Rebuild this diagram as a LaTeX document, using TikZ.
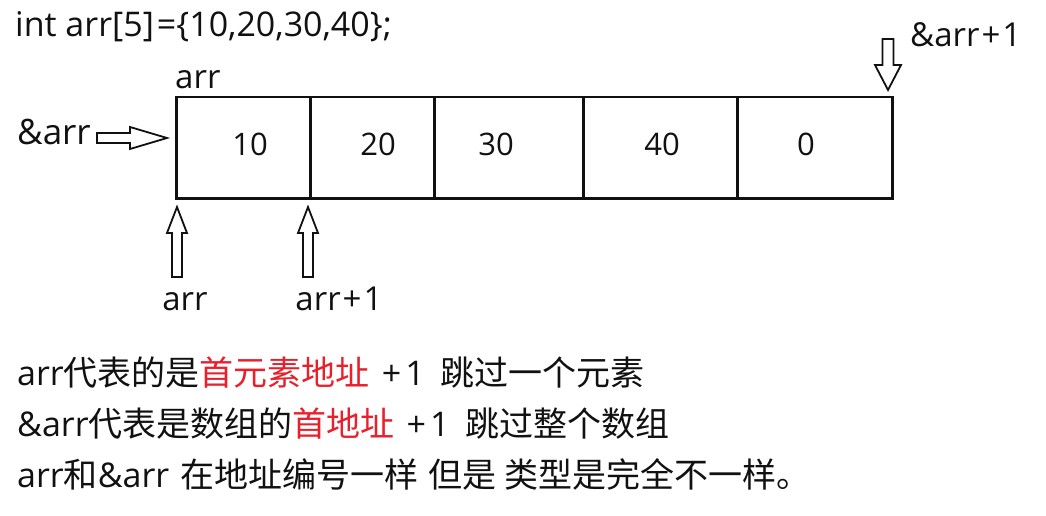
\documentclass[tikz,border=0pt]{standalone}
\usepackage{fontspec}
\setmainfont{Open Sans}
\newfontfamily\cjk{Noto Sans CJK SC}
\usetikzlibrary{calc}
\definecolor{redtxt}{RGB}{232,32,44}
\definecolor{ink}{RGB}{17,17,17}
\newcommand\plusone{\hspace{12pt}+\hspace{4pt}1\hspace{16pt}}
\newcommand\lplus{\hspace{2pt}+\hspace{2pt}}
\begin{document}
\begin{tikzpicture}[x=1pt,y=-1pt,
  cell/.style={draw=ink, line width=2.5pt, minimum height=101pt, inner sep=0pt, anchor=north west},
  lbl/.style={inner sep=0pt, anchor=base west, text=ink, font=\fontsize{33}{38}\selectfont},
  val/.style={inner sep=0pt, anchor=base, text=ink, font=\fontsize{31}{36}\selectfont},
  note/.style={inner sep=0pt, anchor=base west, text=ink, font=\fontsize{34}{40}\selectfont},
  hollow/.style={draw=ink, line width=1.8pt, fill=white, line join=miter}]
\useasboundingbox (0,0) rectangle (1046,516);
% title
\node[lbl, font=\fontsize{34}{40}\selectfont] (title) at (15,37) {int arr[5]\hspace{3pt}=\{10,20,30,40\};};
% cells
\node[cell, minimum width=134pt] (c1) at (175,96) {};
\node[cell, minimum width=124pt] (c2) at (309,96) {};
\node[cell, minimum width=149pt] (c3) at (433,96) {};
\node[cell, minimum width=154pt] (c4) at (582,96) {};
\node[cell, minimum width=155pt] (c5) at (736,96) {};
% values
\node[val] (v1) at (250,155) {10};
\node[val] (v2) at (378,155) {20};
\node[val] (v3) at (496,155) {30};
\node[val] (v4) at (662,155) {40};
\node[val] (v5) at (806,155) {0};
% labels
\node[lbl] (arrtop) at (175,89) {arr};
\node[lbl, font=\fontsize{35}{40}\selectfont] (amparr) at (17,144) {\&arr};
\node[lbl] (amparr1) at (910,47) {\&arr\lplus 1};
\node[lbl, anchor=base] (arrbot) at (185,310) {arr};
\node[lbl, anchor=base] (arr1bot) at (339,310) {arr\lplus 1};
% hollow arrows
\draw[hollow, shift={(167,138)}] (0,0) -- (-37,-11) -- (-37,-5) -- (-70,-5) -- (-70,5) -- (-37,5) -- (-37,11) -- cycle;
\draw[hollow, shift={(177,207)}] (0,0) -- (10,26) -- (5,26) -- (5,70) -- (-5,70) -- (-5,26) -- (-10,26) -- cycle;
\draw[hollow, shift={(308,207)}] (0,0) -- (10,26) -- (5,26) -- (5,70) -- (-5,70) -- (-5,26) -- (-10,26) -- cycle;
\draw[hollow, shift={(888,90)}] (0,0) -- (-13,-25) -- (-5.5,-25) -- (-5.5,-51) -- (5.5,-51) -- (5.5,-25) -- (13,-25) -- cycle;
% notes
\node[note] (n1) at (17,385) {arr{\cjk 代表的是\textcolor{redtxt}{首元素地址}}\plusone{\cjk 跳过一个元素}};
\node[note] (n2) at (17,436) {\&arr{\cjk 代表是数组的\textcolor{redtxt}{首地址}}\plusone{\cjk 跳过整个数组}};
\node[note] (n3) at (17,487) {arr{\cjk 和}\&arr\hspace{11pt}{\cjk 在地址编号一样}\hspace{10pt}{\cjk 但是}\hspace{8pt}{\cjk 类型是完全不一样。}};
\end{tikzpicture}
\end{document}
